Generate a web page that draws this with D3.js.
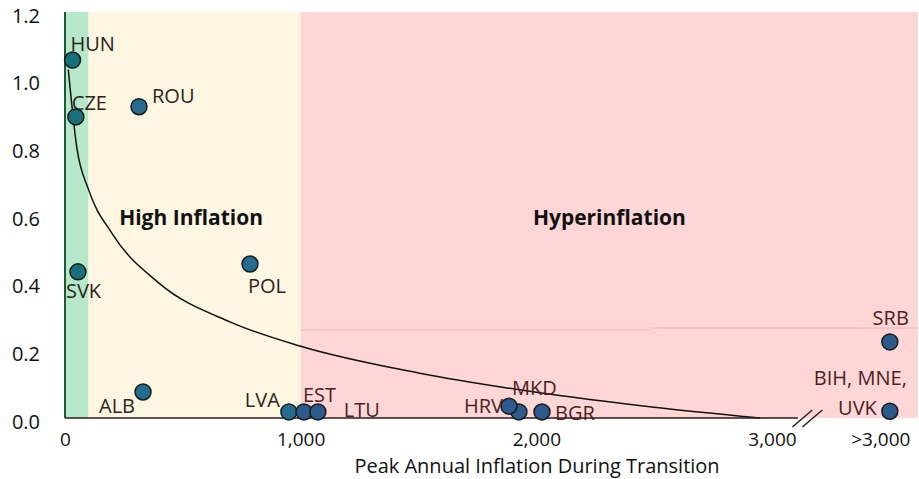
<!DOCTYPE html>
<html>
<head>
<meta charset="utf-8">
<script src="https://cdnjs.cloudflare.com/ajax/libs/d3/7.8.5/d3.min.js"></script>
<style>
  body { margin: 0; background: #fff; }
  text { font-family: "Open Sans", "Noto Sans", sans-serif; }
</style>
</head>
<body>
<div id="chart"></div>
<script>
var w = 919, h = 479;

// data
var countries = ["HUN", "CZE", "ROU", "SVK", "POL", "ALB", "LVA", "EST", "LTU", "MKD", "HRV", "BGR", "SRB", "BIH, MNE,|UVK"];
var peakInflation = [32, 46, 314, 55, 785, 331, 950, 1014, 1073, 1926, 1884, 2024, ">3,000", ">3,000"];
var values = [1.058, 0.89, 0.92, 0.432, 0.455, 0.077, 0.018, 0.018, 0.018, 0.018, 0.035, 0.018, 0.225, 0.02];

// trend curve, points
var trendX = [14, 50, 100, 200, 400, 700, 1000, 1500, 2000, 2500, 2950];
var trendY = [1.03, 0.80, 0.675, 0.545, 0.398, 0.284, 0.212, 0.133, 0.076, 0.032, 0.0];

var yTicks = [0, 0.2, 0.4, 0.6, 0.8, 1.0, 1.2];
var xTicks = [0, 1000, 2000, 3000, ">3,000"];

// inflation bands
var bandStarts = [0, 100, 1000];
var bandEnds = [100, 1000, 3620];
var bandNames = ["", "High Inflation", "Hyperinflation"];

// layout (not data)
var overflowPos = 3500;   // where the ">3,000" column sits on the x scale
var bandColors = ["#b6e8c9", "#fff6e2", "#ffd6d6"];
var bandLabelX = [0, 535, 2310];
// label offsets from each point
var labelDx = [-2, -4, 13, -12, -2, -8, -9, -1, 26, -7, -6, 13, 19, 17];
var labelDy = [-9, -7, -4, 26, 29, 21, -5, -10, 5, -17, 7, 8, -17, -26];
var labelAnchor = ["start", "start", "start", "start", "start", "end", "end", "start", "start", "start", "end", "start", "end", "end"];

var xv = function(v) { return v === ">3,000" ? overflowPos : v; };

var svg = d3.select("#chart").append("svg")
    .attr("width", w)
    .attr("height", h);

var x = d3.scaleLinear().domain([0, 3000]).range([65, 772]);
var y = d3.scaleLinear().domain([0, 1.2]).range([418, 12]);

// background bands
svg.selectAll("rect.band")
    .data(bandStarts)
  .enter().append("rect")
    .attr("class", "band")
    .attr("x", function(d) { return x(d); })
    .attr("y", y(1.2))
    .attr("width", function(d, i) { return x(bandEnds[i]) - x(d); })
    .attr("height", y(0) - y(1.2))
    .attr("fill", function(d, i) { return bandColors[i]; });

// faint line in the pink area
svg.append("path")
    .attr("fill", "none")
    .attr("stroke", "#f7b4b4")
    .attr("stroke-width", 1)
    .attr("d", "M" + x(1000) + "," + y(0.26) + "H" + x(2480) + "M" + x(2480) + "," + y(0.266) + "H" + x(3620));

svg.selectAll("text.band")
    .data(bandNames)
  .enter().append("text")
    .attr("class", "band")
    .attr("x", function(d, i) { return x(bandLabelX[i]); })
    .attr("y", 225)
    .attr("text-anchor", "middle")
    .style("font-size", "21px")
    .style("font-weight", "bold")
    .attr("fill", "#111")
    .text(function(d) { return d; });

// trend line
var trend = d3.line()
    .x(function(d) { return x(d); })
    .y(function(d, i) { return y(trendY[i]); })
    .curve(d3.curveMonotoneX);

svg.append("path")
    .datum(trendX)
    .attr("fill", "none")
    .attr("stroke", "#111")
    .attr("stroke-width", 1.5)
    .attr("d", trend);

// axes
svg.append("g")
    .attr("transform", "translate(65,0)")
    .call(d3.axisLeft(y).tickValues(yTicks).tickSize(0).tickPadding(25).tickFormat(d3.format(".1f")))
    .call(function(g) { g.select(".domain").remove(); })
    .selectAll("text")
    .attr("dy", "0.5em")
    .style("font-size", "20px")
    .style("font-family", "'Open Sans', sans-serif")
    .attr("fill", "#111");

svg.append("g")
    .attr("transform", "translate(0,418)")
    .call(d3.axisBottom(x).tickValues(xTicks.map(xv)).tickSize(0).tickPadding(15)
      .tickFormat(function(d) { return d === overflowPos ? ">3,000" : d3.format(",")(d); }))
    .call(function(g) { g.select(".domain").remove(); })
    .selectAll("text")
    .attr("dx", function(d) { return d === overflowPos ? "-0.5em" : 0; })
    .style("font-size", "19px")
    .style("font-family", "'Open Sans', sans-serif")
    .attr("fill", "#111");

svg.append("line")
    .attr("x1", x(0)).attr("x2", x(3110))
    .attr("y1", y(0)).attr("y2", y(0))
    .attr("stroke", "#2a1a1a")
    .attr("stroke-width", 1.5);

svg.append("line")
    .attr("x1", x(0)).attr("x2", x(0))
    .attr("y1", y(1.2)).attr("y2", y(0))
    .attr("stroke", "#1d5a3a")
    .attr("stroke-width", 2);

// axis break marks
[-5, 5].forEach(function(o) {
  svg.append("line")
      .attr("x1", x(3150) + o - 10).attr("y1", y(0) + 9)
      .attr("x2", x(3150) + o + 10).attr("y2", y(0) - 8)
      .attr("stroke", "#2a1a1a")
      .attr("stroke-width", 1.5);
});

svg.append("text")
    .attr("x", 537)
    .attr("y", 473)
    .attr("text-anchor", "middle")
    .style("font-size", "20px")
    .attr("fill", "#111")
    .text("Peak Annual Inflation During Transition");

// points
var pointColor = function(v) {
  var p = xv(v);
  return p < 100 ? "#17707a" : (p < 1000 ? "#246b8f" : "#2d5a8c");
};

svg.selectAll("circle.pt")
    .data(values)
  .enter().append("circle")
    .attr("class", "pt")
    .attr("cx", function(d, i) { return x(xv(peakInflation[i])); })
    .attr("cy", function(d) { return y(d); })
    .attr("r", 8)
    .attr("fill", function(d, i) { return pointColor(peakInflation[i]); })
    .attr("stroke", "#1a1a1a")
    .attr("stroke-width", 1.5);

var labels = svg.selectAll("text.lbl")
    .data(countries)
  .enter().append("text")
    .attr("class", "lbl")
    .attr("x", function(d, i) { return x(xv(peakInflation[i])) + labelDx[i]; })
    .attr("y", function(d, i) { return y(values[i]) + labelDy[i]; })
    .attr("text-anchor", function(d, i) { return labelAnchor[i]; })
    .style("font-size", "20px")
    .attr("fill", function(d, i) { return xv(peakInflation[i]) < 1000 ? "#2b2419" : "#4a1f1f"; });

labels.each(function(d) {
  var parts = d.split("|");
  var t = d3.select(this);
  if (parts.length === 1) { t.text(d); return; }
  var x0 = +t.attr("x");
  t.append("tspan").attr("x", x0).attr("dy", 0).text(parts[0]);
  t.append("tspan").attr("x", x0 - 30).attr("dy", 30).text(parts[1]);
});
</script>
</body>
</html>
